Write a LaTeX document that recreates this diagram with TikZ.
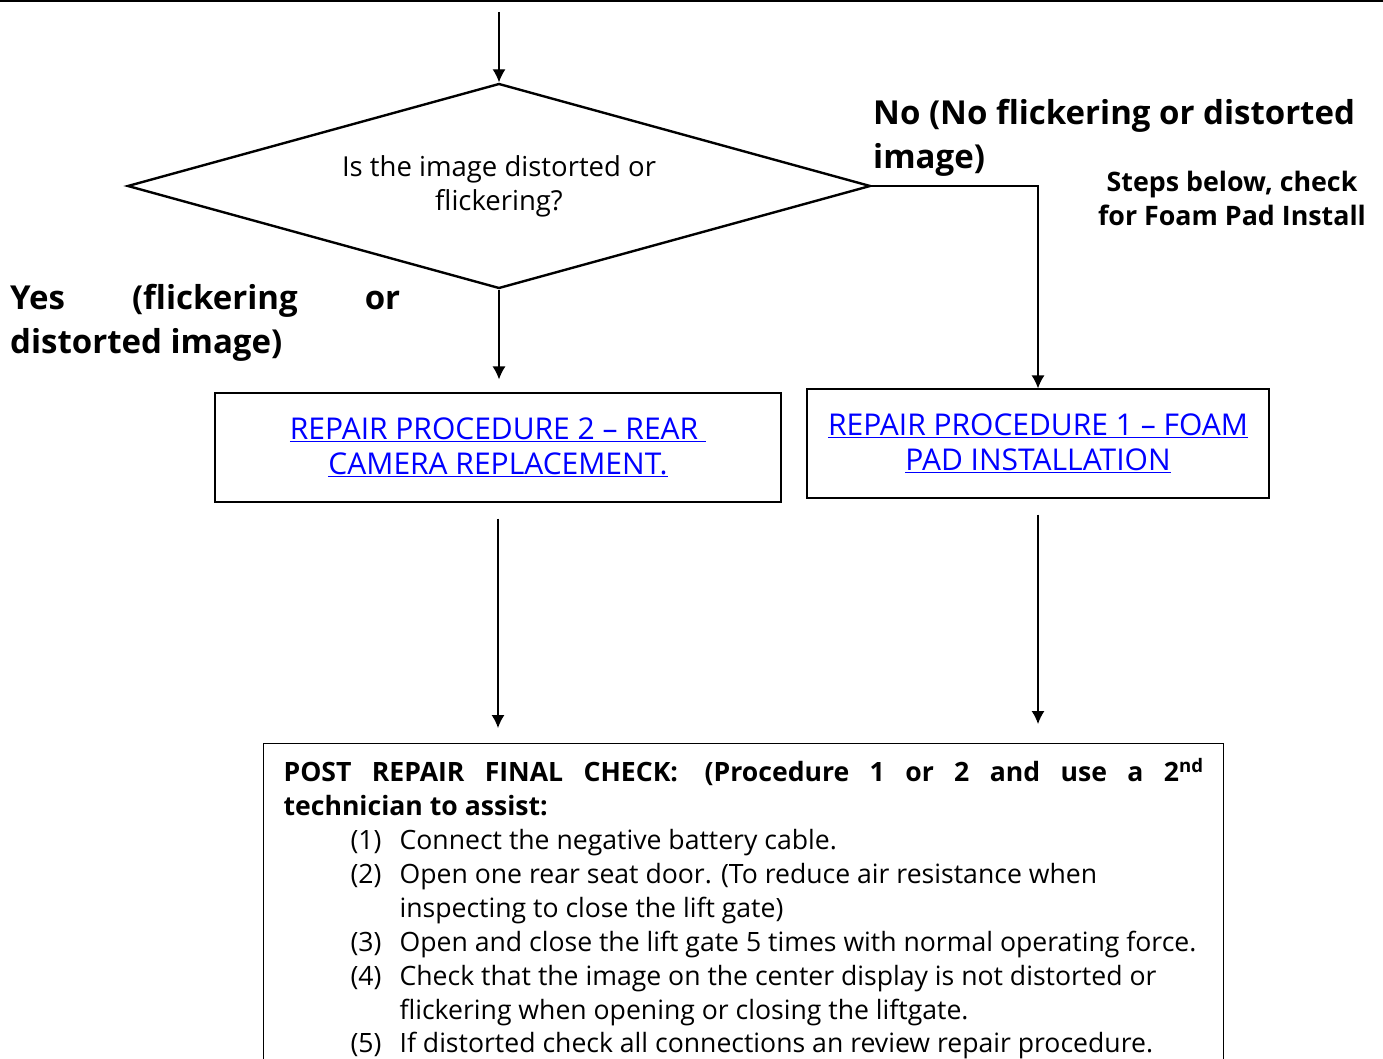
\documentclass[tikz,border=0pt]{standalone}
\usepackage{fontspec}
\setmainfont{Open Sans}
\usetikzlibrary{shapes.geometric,arrows.meta,positioning}
\definecolor{linkblue}{RGB}{0,0,255}
\newcommand{\bodyfont}{\fontsize{26.6}{33.9}\selectfont}
\newcommand{\answerfont}{\bfseries\fontsize{33}{44.5}\selectfont}
\newcommand{\linkline}[1]{\underline{#1}}
\newcommand{\checkitem}[2]{\par\raggedright\hyphenpenalty=10000\noindent\hangindent=116pt\hspace*{67pt}\makebox[49pt][l]{(#1)}#2}
\tikzset{
  decision/.style={diamond, draw, line width=2.4pt, aspect=3.62, minimum width=743pt, minimum height=205pt, inner sep=0pt, align=center, font=\fontsize{27.5}{34}\selectfont},
  procbox/.style={rectangle, draw, line width=1.2pt, minimum height=109pt, align=center, text=linkblue, font=\fontsize{30}{35}\selectfont},
  finalbox/.style={rectangle, draw, line width=1.2pt, text width=920pt, inner xsep=20pt, inner ysep=15pt, align=justify, font=\bodyfont},
  answer/.style={inner sep=0pt, font=\answerfont},
  arr/.style={-{Latex[length=13pt,width=13pt]}, line width=1.3pt},
}
\begin{document}
\begin{tikzpicture}[x=1pt,y=-1pt]
  \useasboundingbox (0,0) rectangle (1383,1059);
  \draw[line width=3pt] (0,1) -- (1383,1);
  % question
  \coordinate (start) at (499,12);
  \node[decision] (q) at (499,186) {Is the image distorted or\\flickering?};
  % answers
  \node[answer, anchor=north west, align=left] (no) at (873,99) {No (No flickering or distorted\\image)};
  \node[inner sep=0pt, anchor=north, align=center, font=\bfseries\fontsize{26.8}{34}\selectfont] (steps) at (1232,171) {Steps below, check\\for Foam Pad Install};
  \node[answer, anchor=north west, text width=390pt, align=justify] (yes) at (10,284) {Yes (flickering or\linebreak distorted image)};
  % procedures
  \node[procbox, minimum width=566pt] (p2) at (498,447.5) {\linkline{REPAIR PROCEDURE 2 -- REAR\ }\\\linkline{CAMERA REPLACEMENT.}};
  \node[procbox, minimum width=462pt] (p1) at (1038,443.5) {\linkline{REPAIR PROCEDURE 1 -- FOAM}\\\linkline{PAD INSTALLATION}};
  % final check
  \node[finalbox, anchor=north west] (fin) at (263,743) {\textbf{POST REPAIR FINAL CHECK:\quad (Procedure 1 or 2 and use a 2\textsuperscript{nd}\linebreak technician to assist:}
    \checkitem{1}{Connect the negative battery cable.}
    \checkitem{2}{Open one rear seat door. (To reduce air resistance when inspecting to close the lift gate)}
    \checkitem{3}{Open and close the lift gate 5 times with normal operating force.}
    \checkitem{4}{Check that the image on the center display is not distorted or flickering when opening or closing the liftgate.}
    \checkitem{5}{If distorted check all connections an review repair procedure.}};
  % connectors
  \draw[arr] (start) -- (q.north);
  \draw[arr, shorten >=13pt] (q.south) -- (q.south |- p2.north);
  \draw[arr] (q.east) -| (p1.north);
  \draw[arr, shorten <=16pt, shorten >=15pt] (p2.south) -- (p2.south |- fin.north);
  \draw[arr, shorten <=16pt, shorten >=19pt] (p1.south) -- (p1.south |- fin.north);
\end{tikzpicture}
\end{document}
